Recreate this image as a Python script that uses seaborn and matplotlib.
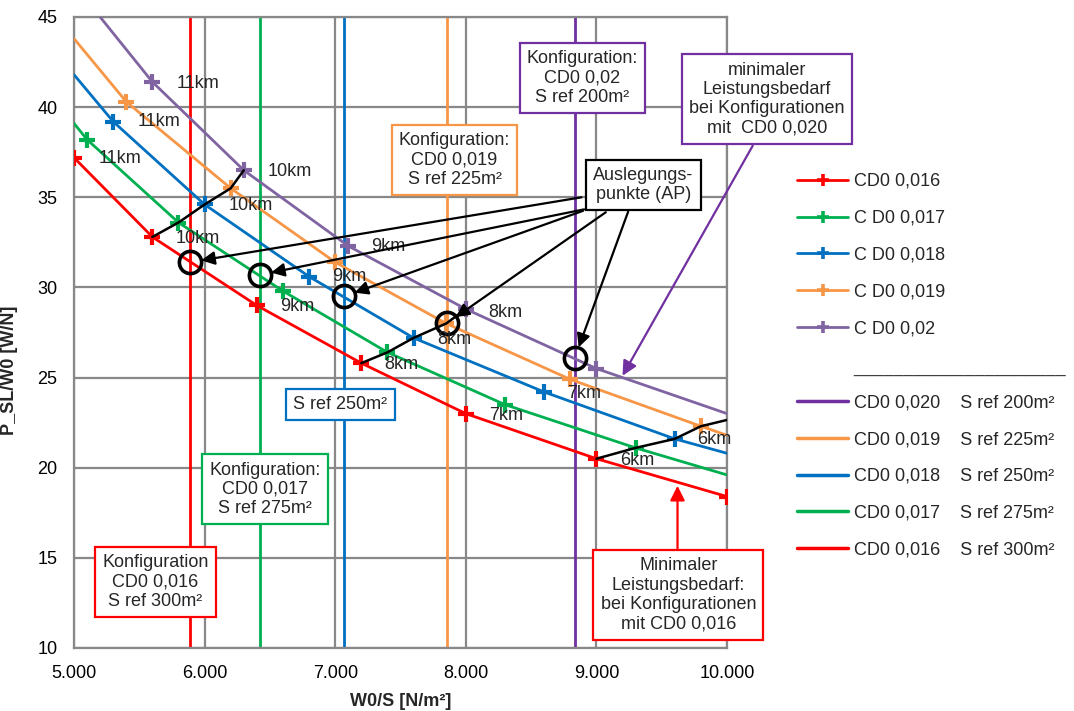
import matplotlib
matplotlib.use("Agg")
import matplotlib.pyplot as plt
from matplotlib.lines import Line2D
import pandas as pd
import seaborn as sns

# Power loading P_SL/W0 over wing loading W0/S for five zero-lift drag levels
series_names = ["CD0 0,016", "C D0 0,017", "C D0 0,018", "C D0 0,019", "C D0 0,02"]
series_colors = ["#FF0000", "#00B050", "#0070C0", "#F79646", "#8064A2"]

red_x = [5000, 5600, 6400, 7200, 8000, 9000, 10000]
red_y = [37.2, 32.8, 29.0, 25.8, 23.0, 20.5, 18.4]
green_x = [5000, 5100, 5800, 6600, 7400, 8300, 9300, 10000]
green_y = [39.1, 38.2, 33.6, 29.8, 26.4, 23.5, 21.1, 19.6]
blue_x = [5000, 5300, 6000, 6800, 7600, 8600, 9600, 10000]
blue_y = [41.8, 39.2, 34.6, 30.6, 27.2, 24.2, 21.6, 20.8]
orange_x = [5000, 5400, 6200, 7000, 7850, 8800, 9800, 10000]
orange_y = [43.8, 40.3, 35.5, 31.4, 28.0, 24.9, 22.3, 21.8]
purple_x = [5200, 5600, 6300, 7100, 8000, 9000, 10000]
purple_y = [45.0, 41.4, 36.5, 32.3, 28.8, 25.5, 23.0]

# index range of the nodes that carry a "+" marker (flight altitude points)
marker_ranges = [(0, 7), (1, 7), (1, 7), (1, 7), (1, 6)]

# lines joining equal cruise altitudes across the drag levels
alt10_x = [5600, 5800, 6000, 6200, 6300]
alt10_y = [32.8, 33.6, 34.6, 35.5, 36.5]
alt8_x = [7200, 7400, 7600, 7850, 8000]
alt8_y = [25.8, 26.4, 27.2, 28.0, 28.8]
alt6_x = [9000, 9300, 9600, 9800, 10000]
alt6_y = [20.5, 21.1, 21.6, 22.3, 22.65]

# wing loading of each configuration (reference area) and its design point
sref_m2 = [300, 275, 250, 225, 200]
config_cd0 = ["0,016", "0,017", "0,018", "0,019", "0,020"]
config_ws = [5890, 6425, 7068, 7853, 8835]
config_colors = ["#FF0000", "#00B050", "#0070C0", "#F79646", "#7030A0"]
ap_y = [31.4, 30.7, 29.5, 28.0, 26.1]

x_ticks = [5000, 6000, 7000, 8000, 9000, 10000]
y_ticks = [10, 15, 20, 25, 30, 35, 40, 45]

# altitude labels next to the curves
km_labels = ["11km", "11km", "11km", "10km", "10km", "10km", "9km", "9km", "9km",
             "8km", "8km", "8km", "7km", "7km", "6km", "6km"]
km_x = [5946, 5652, 5353, 6651, 6350, 5946, 7410, 7104, 6708,
        8305, 7909, 7505, 8906, 8305, 9902, 9310]
km_y = [41.3, 39.2, 37.15, 36.45, 34.55, 32.7, 32.25, 30.6, 28.95,
        28.6, 27.1, 25.7, 24.1, 22.9, 21.55, 20.4]

sns.set_theme(style="white")
plt.rcParams["font.family"] = ["Liberation Sans", "DejaVu Sans"]

fig = plt.figure(figsize=(10.74, 7.11), dpi=100)
ax = fig.add_axes([74 / 1074, 1 - 648 / 711, 653 / 1074, 631 / 711])

grid_c = "#888888"
ax.set_xlim(5000, 10000)
ax.set_ylim(10, 45)
ax.set_xticks(x_ticks)
ax.set_yticks(y_ticks)
ax.set_xticklabels([f"{v:,.0f}".replace(",", ".") for v in x_ticks])
ax.set_yticklabels([str(v) for v in y_ticks])
ax.tick_params(length=0, pad=12, labelsize=13, colors="#000000")
ax.grid(True, color=grid_c, lw=1.6, zorder=0)
for s in ax.spines.values():
    s.set_color(grid_c)
    s.set_linewidth(1.6)
ax.set_axisbelow(True)

# vertical lines: wing loading of each configuration
for ws, c in zip(config_ws, config_colors):
    ax.axvline(ws, color=c, lw=2, zorder=2)

curves_x = [red_x, green_x, blue_x, orange_x, purple_x]
curves_y = [red_y, green_y, blue_y, orange_y, purple_y]
for name, xs, ys, c, (i0, i1) in zip(series_names, curves_x, curves_y,
                                      series_colors, marker_ranges):
    df = pd.DataFrame({"ws": xs, "p": ys})
    sns.lineplot(data=df, x="ws", y="p", ax=ax, color=c, lw=2,
                 estimator=None, sort=False, zorder=3)
    sns.scatterplot(data=df.iloc[i0:i1], x="ws", y="p", ax=ax, color=c,
                    marker="+", s=120, linewidth=3, zorder=4)

for xs, ys in [(alt10_x, alt10_y), (alt8_x, alt8_y), (alt6_x, alt6_y)]:
    ax.plot(xs, ys, color="black", lw=1.8, zorder=5)

# design points (Auslegungspunkte)
ax.plot(config_ws, ap_y, ls="none", marker="o", ms=16, mfc="none",
        mec="black", mew=2.6, zorder=6)

for t, x, y in zip(km_labels, km_x, km_y):
    ax.text(x, y, t, ha="center", va="center", fontsize=13, zorder=7)

ax.set_xlabel("W0/S [N/m²]", fontsize=13, fontweight="bold", labelpad=8)
ax.set_ylabel("P_SL/W0 [W/N]", fontsize=13, fontweight="bold")
ax.yaxis.set_label_coords(-0.086, 0.44)


def box(x, y, text, color):
    ax.text(x, y, text, ha="center", va="center", fontsize=13, zorder=10,
            clip_on=False, linespacing=1.18,
            bbox=dict(boxstyle="square,pad=0.4", fc="white", ec=color, lw=1.6))


box(8894, 41.6, f"Konfiguration:\nCD0 0,02\nS ref {sref_m2[4]}m²", config_colors[4])
box(7914, 37.05, f"Konfiguration:\nCD0 {config_cd0[3]}\nS ref {sref_m2[3]}m²", config_colors[3])
box(7040, 23.5, f"S ref {sref_m2[2]}m²", config_colors[2])
box(6465, 18.8, f"Konfiguration:\nCD0 {config_cd0[1]}\nS ref {sref_m2[1]}m²", config_colors[1])
box(5623, 13.65, f"Konfiguration\nCD0 {config_cd0[0]}\nS ref {sref_m2[0]}m²", config_colors[0])
box(10305, 40.45, "minimaler\nLeistungsbedarf\nbei Konfigurationen\nmit  CD0 0,020", "#7030A0")
box(9628, 12.95, "Minimaler\nLeistungsbedarf:\nbei Konfigurationen\nmit CD0 0,016", "#FF0000")

# arrows from the design point box to each circled point
tails = [(8886, 35.0), (8906, 34.33), (8898, 34.25), (9072, 34.17), (9243, 34.2)]
for (tx, ty), px, py in zip(tails, config_ws, ap_y):
    ax.annotate("", xy=(px, py), xytext=(tx, ty), zorder=8,
                arrowprops=dict(arrowstyle="-|>", color="black", lw=1.6,
                                shrinkA=0, shrinkB=8, mutation_scale=20))
box(9361, 35.68, "Auslegungs-\npunkte (AP)", "black")

ax.annotate("", xy=(9200, 25.1), xytext=(10197, 37.86), annotation_clip=False,
            zorder=8, arrowprops=dict(arrowstyle="-|>", color="#7030A0", lw=1.6,
                                      shrinkA=0, shrinkB=0, mutation_scale=22))
ax.annotate("", xy=(9621, 19.0), xytext=(9621, 15.5), annotation_clip=False,
            zorder=8, arrowprops=dict(arrowstyle="-|>", color="#FF0000", lw=1.6,
                                      shrinkA=0, shrinkB=0, mutation_scale=22))

# legend: curves, spacer, configurations
handles = [Line2D([], [], color=c, lw=2, marker="+", ms=9, mew=2.6) for c in series_colors]
labels = list(series_names)
handles.append(Line2D([], [], lw=0, alpha=0))
labels.append(" ")
for cd, sr, c in zip(config_cd0[::-1], sref_m2[::-1], config_colors[::-1]):
    handles.append(Line2D([], [], color=c, lw=2.5))
    labels.append(f"CD0 {cd}    S ref {sr}m²")
fig.legend(handles, labels, loc="upper left", bbox_to_anchor=(797 / 1074, 1 - 173 / 711),
           frameon=False, fontsize=13, handlelength=2.85, handletextpad=0.3,
           labelspacing=1.1, borderpad=0, borderaxespad=0)
fig.text(853 / 1074, 1 - 372 / 711, "_" * 21, fontsize=13, color="#404040", va="baseline")

fig.savefig("out.png", dpi=100, facecolor="white")
